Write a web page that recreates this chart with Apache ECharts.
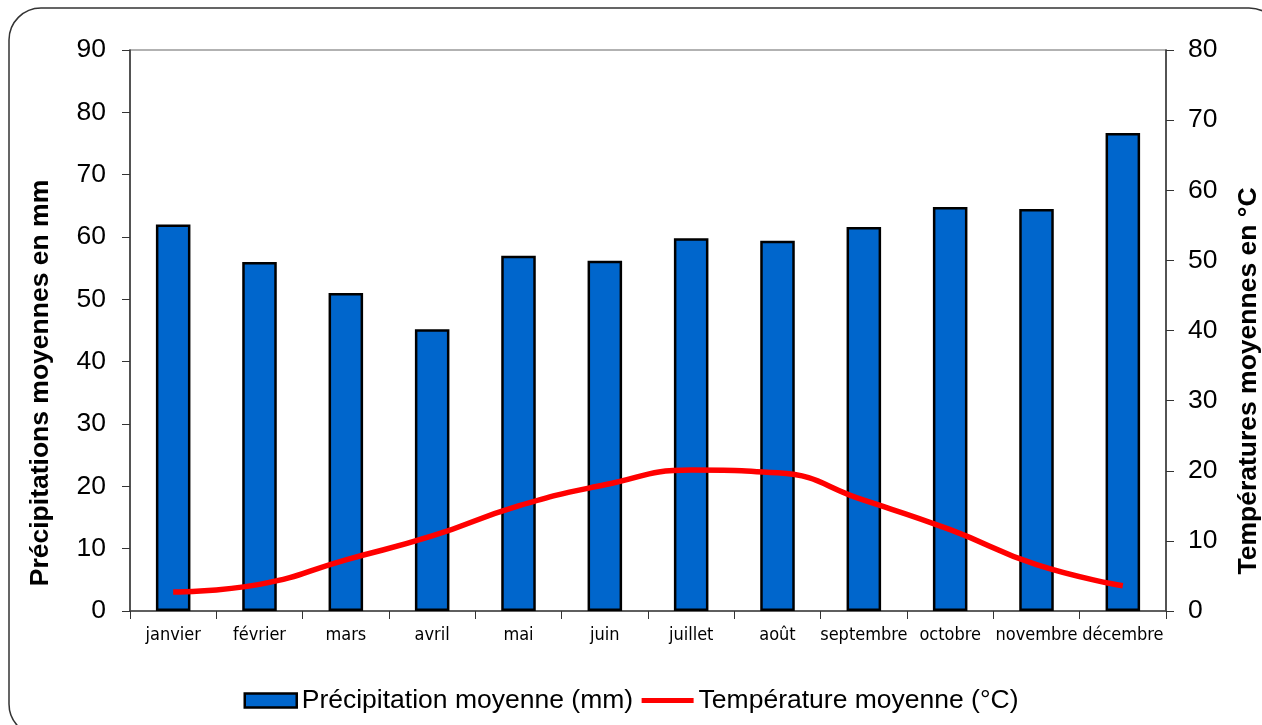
<!DOCTYPE html>
<html>
<head>
<meta charset="utf-8">
<script src="https://cdn.jsdelivr.net/npm/echarts@6/dist/echarts.min.js"></script>
<style>html,body{margin:0;padding:0;background:#fff;}#c{width:1262px;height:725px;}</style>
</head>
<body>
<div id="c"></div>
<script>
var months = ['janvier','février','mars','avril','mai','juin','juillet','août','septembre','octobre','novembre','décembre'];
var precipitation = [62, 56, 51, 45.2, 57, 56.2, 59.8, 59.4, 61.6, 64.8, 64.5, 76.7];
var temperature = [2.7, 3.8, 7.3, 10.7, 15.0, 18.0, 20.1, 19.7, 15.8, 11.6, 6.6, 3.6];
var leftTicks = [0, 90, 10];
var rightTicks = [0, 80, 10];

var chart = echarts.init(document.getElementById('c'));
chart.setOption({
  animation: false,
  backgroundColor: '#fff',
  graphic: [
    {type: 'rect', shape: {x: 9, y: 8, width: 1272, height: 728, r: 32}, style: {fill: 'none', stroke: '#333', lineWidth: 1.5}, z: -1},
    {type: 'text', x: 41, y: 383, rotation: Math.PI / 2, style: {text: 'Précipitations moyennes en mm', font: 'bold 26.5px "Liberation Sans", Arial', fill: '#000', align: 'center', verticalAlign: 'middle'}},
    {type: 'text', x: 1249, y: 381, rotation: Math.PI / 2, style: {text: 'Températures moyennes en °C', font: 'bold 26.5px "Liberation Sans", Arial', fill: '#000', align: 'center', verticalAlign: 'middle'}}
  ],
  grid: {left: 130, right: 96, top: 50, bottom: 114, show: true, borderColor: '#999', borderWidth: 1.5, backgroundColor: '#fff'},
  legend: {
    bottom: 6, left: 'center', itemWidth: 52, itemHeight: 14, itemGap: 6,
    textStyle: {fontFamily: '"Liberation Sans", Arial', fontSize: 26.5, color: '#000'},
    data: [
      {name: 'Précipitation moyenne (mm)', icon: 'rect', itemStyle: {color: '#0066cc', borderColor: '#000', borderWidth: 2.5}},
      {name: 'Température moyenne (°C)', itemStyle: {opacity: 0}, lineStyle: {color: '#ff0000', width: 5}}
    ]
  },
  xAxis: {
    type: 'category', data: months,
    axisLine: {lineStyle: {color: '#444', width: 1.5}},
    axisTick: {show: true, length: 8, lineStyle: {color: '#333'}},
    axisLabel: {fontFamily: '"DejaVu Sans Condensed", "DejaVu Sans"', fontSize: 18, color: '#000', margin: 15, interval: 0}
  },
  yAxis: [
    {type: 'value', min: leftTicks[0], max: leftTicks[1], interval: leftTicks[2],
     axisLine: {show: true, lineStyle: {color: '#333', width: 1.5}},
     axisTick: {show: true, length: 8, lineStyle: {color: '#333'}},
     splitLine: {show: false},
     axisLabel: {fontFamily: '"Liberation Sans", Arial', fontSize: 26.5, color: '#000', margin: 24}},
    {type: 'value', min: rightTicks[0], max: rightTicks[1], interval: rightTicks[2], position: 'right',
     axisLine: {show: true, lineStyle: {color: '#333', width: 1.5}},
     axisTick: {show: true, length: 8, lineStyle: {color: '#333'}},
     splitLine: {show: false},
     axisLabel: {fontFamily: '"Liberation Sans", Arial', fontSize: 26.5, color: '#000', margin: 22}}
  ],
  series: [
    {name: 'Précipitation moyenne (mm)', type: 'bar', data: precipitation, barWidth: '40%',
     itemStyle: {color: '#0066cc', borderColor: '#000', borderWidth: 2.5}},
    {name: 'Température moyenne (°C)', type: 'line', yAxisIndex: 1, data: temperature, smooth: 0.5,
     showSymbol: false, symbol: 'none', lineStyle: {color: '#ff0000', width: 5.5}, itemStyle: {color: '#ff0000'}, z: 3}
  ]
});
</script>
</body>
</html>
